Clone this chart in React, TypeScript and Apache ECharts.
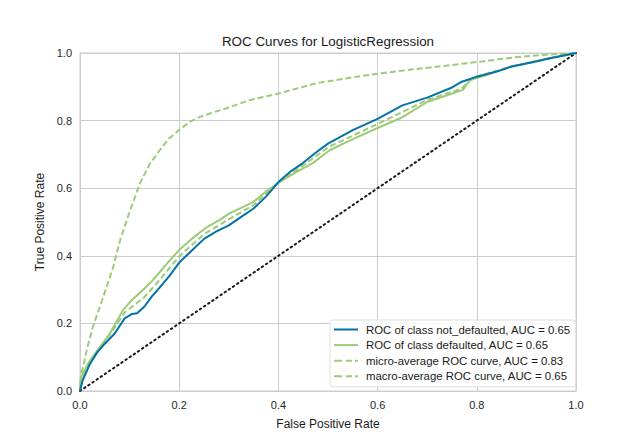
import React, { useEffect, useRef } from "react";
import * as echarts from "echarts";

const titleText = "ROC Curves for LogisticRegression";
const xAxisName = "False Positive Rate";
const yAxisName = "True Positive Rate";
const seriesNames = [
  "ROC of class not_defaulted, AUC = 0.65",
  "ROC of class defaulted, AUC = 0.65",
  "micro-average ROC curve, AUC = 0.83",
  "macro-average ROC curve, AUC = 0.65",
];

const notDefaultedFpr = [0, 0.005, 0.02, 0.035, 0.05, 0.07, 0.09, 0.105, 0.115, 0.13, 0.145, 0.16, 0.18, 0.2, 0.225, 0.25, 0.275, 0.3, 0.325, 0.35, 0.375, 0.4, 0.425, 0.45, 0.475, 0.5, 0.55, 0.6, 0.65, 0.7, 0.75, 0.77, 0.8, 0.84, 0.87, 0.91, 0.95, 0.98, 1];
const notDefaultedTpr = [0, 0.03, 0.08, 0.115, 0.14, 0.17, 0.215, 0.228, 0.23, 0.25, 0.28, 0.305, 0.34, 0.38, 0.415, 0.45, 0.472, 0.49, 0.515, 0.54, 0.575, 0.618, 0.65, 0.675, 0.705, 0.732, 0.772, 0.805, 0.845, 0.868, 0.898, 0.915, 0.93, 0.945, 0.96, 0.972, 0.985, 0.994, 1];

const defaultedFpr = [0, 0.001, 0.005, 0.02, 0.04, 0.06, 0.087, 0.105, 0.127, 0.145, 0.161, 0.18, 0.2, 0.225, 0.256, 0.28, 0.302, 0.325, 0.349, 0.375, 0.4, 0.437, 0.47, 0.504, 0.55, 0.6, 0.65, 0.7, 0.74, 0.772, 0.786, 0.82, 0.867, 0.91, 0.948, 0.98, 1];
const defaultedTpr = [0, 0.03, 0.05, 0.09, 0.13, 0.17, 0.24, 0.27, 0.299, 0.325, 0.352, 0.385, 0.417, 0.45, 0.485, 0.505, 0.526, 0.542, 0.559, 0.59, 0.616, 0.648, 0.675, 0.713, 0.745, 0.778, 0.81, 0.855, 0.875, 0.891, 0.92, 0.935, 0.959, 0.973, 0.985, 0.994, 1];

const microFpr = [0, 0.002, 0.006, 0.015, 0.026, 0.045, 0.067, 0.081, 0.1, 0.121, 0.14, 0.161, 0.18, 0.2, 0.22, 0.242, 0.27, 0.296, 0.343, 0.4, 0.478, 0.55, 0.611, 0.68, 0.746, 0.81, 0.881, 0.94, 1];
const microTpr = [0, 0.05, 0.07, 0.13, 0.19, 0.27, 0.367, 0.447, 0.53, 0.615, 0.67, 0.713, 0.748, 0.772, 0.795, 0.811, 0.825, 0.837, 0.861, 0.88, 0.911, 0.928, 0.941, 0.953, 0.964, 0.975, 0.988, 0.995, 1];

const macroFpr = [0, 0.02, 0.05, 0.09, 0.13, 0.16, 0.2, 0.25, 0.3, 0.35, 0.4, 0.45, 0.5, 0.6, 0.7, 0.77, 0.786, 0.8, 0.87, 0.95, 1];
const macroTpr = [0.02, 0.085, 0.145, 0.232, 0.278, 0.328, 0.398, 0.464, 0.508, 0.55, 0.617, 0.667, 0.721, 0.79, 0.861, 0.895, 0.918, 0.93, 0.96, 0.985, 1];

const diagonal = [0, 1];
const ticks = [0, 0.2, 0.4, 0.6, 0.8, 1.0];

const BLUE = "#0372a7";
const GREEN = "#9ccb78";
const FONT = "Liberation Sans";
const SOLID_ICON = "path://M0,0H24V2H0Z";
const DASH_ICON = "path://M0,0H8V2H0Z M12,0H18V2H12Z M21,0H24V2H21Z";

function zip(xs: number[], ys: number[]) {
  return xs.map((x, i) => [x, ys[i]]);
}

export default function App() {
  const ref = useRef<HTMLDivElement>(null);
  useEffect(() => {
    if (!ref.current) return;
    const chart = echarts.init(ref.current, undefined, { renderer: "svg" });
    const axisCommon = {
      type: "value" as const,
      min: ticks[0],
      max: ticks[ticks.length - 1],
      interval: 0.2,
      nameLocation: "middle" as const,
      nameTextStyle: { fontFamily: FONT, fontSize: 12, color: "#1a1a1a" },
      axisLine: { show: true, lineStyle: { color: "#cccccc", width: 1 } },
      axisTick: { show: false },
      splitLine: { show: true, lineStyle: { color: "#cccccc", width: 1 } },
      axisLabel: {
        fontFamily: FONT,
        fontSize: 11,
        color: "#262626",
        formatter: (v: number) => v.toFixed(1),
      },
    };
    chart.setOption({
      animation: false,
      backgroundColor: "#ffffff",
      grid: {
        left: 80,
        right: 64,
        top: 53,
        bottom: 49,
        show: true,
        borderColor: "#cccccc",
        borderWidth: 1,
      },
      graphic: [
        {
          type: "text",
          x: 328,
          y: 41,
          style: {
            text: titleText,
            fontFamily: FONT,
            fontSize: 13.4,
            fill: "#1a1a1a",
            align: "center",
            verticalAlign: "middle",
          },
        },
      ],
      xAxis: {
        ...axisCommon,
        name: xAxisName,
        nameGap: 27,
        axisLabel: { ...axisCommon.axisLabel, margin: 8 },
      },
      yAxis: {
        ...axisCommon,
        name: yAxisName,
        nameGap: 30,
        axisLabel: { ...axisCommon.axisLabel, margin: 8 },
      },
      legend: {
        orient: "vertical",
        left: 330,
        top: 320,
        backgroundColor: "rgba(255,255,255,0.85)",
        borderColor: "#dddddd",
        borderWidth: 1,
        borderRadius: 3,
        padding: [3, 5, 4, 4],
        itemGap: 2.6,
        itemWidth: 24,
        itemHeight: 2,
        textStyle: { fontFamily: FONT, fontSize: 11.4, lineHeight: 13, color: "#1a1a1a", padding: [0, 0, 0, 3] },
        data: seriesNames.map((n, i) => ({ name: n, icon: i < 2 ? SOLID_ICON : DASH_ICON })),
      },
      series: [
        {
          name: seriesNames[0],
          type: "line",
          data: zip(notDefaultedFpr, notDefaultedTpr),
          showSymbol: false,
          symbol: "none",
          lineStyle: { color: BLUE, width: 2 },
          itemStyle: { color: BLUE },
          z: 4,
        },
        {
          name: seriesNames[1],
          type: "line",
          data: zip(defaultedFpr, defaultedTpr),
          showSymbol: false,
          symbol: "none",
          lineStyle: { color: GREEN, width: 2 },
          itemStyle: { color: GREEN },
          z: 3,
        },
        {
          name: seriesNames[2],
          type: "line",
          data: zip(microFpr, microTpr),
          showSymbol: false,
          symbol: "none",
          lineStyle: { color: GREEN, width: 2, type: [6, 3] },
          itemStyle: { color: GREEN },
          z: 3,
        },
        {
          name: seriesNames[3],
          type: "line",
          data: zip(macroFpr, macroTpr),
          showSymbol: false,
          symbol: "none",
          lineStyle: { color: GREEN, width: 2, type: [6, 3] },
          itemStyle: { color: GREEN },
          z: 3,
        },
        {
          name: "diagonal",
          type: "line",
          data: diagonal.map((v) => [v, v]),
          showSymbol: false,
          symbol: "none",
          lineStyle: { color: "#1a1a1a", width: 2, type: [1.5, 3.5], cap: "round" },
          z: 2,
        },
      ],
    });
    return () => chart.dispose();
  }, []);
  return <div ref={ref} style={{ width: 640, height: 440, position: "absolute", left: 0, top: 0 }} />;
}
